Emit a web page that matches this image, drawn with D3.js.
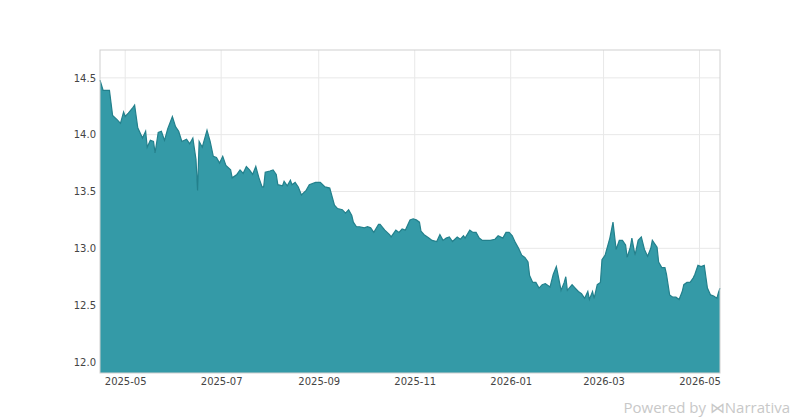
<!DOCTYPE html>
<html><head><meta charset="utf-8">
<script src="https://cdn.jsdelivr.net/npm/d3@7"></script>
<style>body{margin:0;background:#fff;font-family:"DejaVu Sans",sans-serif}</style>
</head><body><svg id="c" width="800" height="420"></svg>
<script>
const dates=["2025-04-15","2025-04-17","2025-04-21","2025-04-23","2025-04-26","2025-04-28","2025-04-30","2025-05-01","2025-05-03","2025-05-06","2025-05-07","2025-05-09","2025-05-12","2025-05-14","2025-05-15","2025-05-17","2025-05-19","2025-05-20","2025-05-22","2025-05-24","2025-05-26","2025-05-28","2025-05-31","2025-06-02","2025-06-04","2025-06-06","2025-06-09","2025-06-11","2025-06-13","2025-06-15","2025-06-16","2025-06-17","2025-06-19","2025-06-22","2025-06-24","2025-06-26","2025-06-28","2025-06-30","2025-07-02","2025-07-04","2025-07-07","2025-07-08","2025-07-11","2025-07-13","2025-07-15","2025-07-17","2025-07-19","2025-07-21","2025-07-23","2025-07-25","2025-07-27","2025-07-28","2025-07-29","2025-08-01","2025-08-03","2025-08-05","2025-08-06","2025-08-09","2025-08-10","2025-08-12","2025-08-14","2025-08-15","2025-08-17","2025-08-19","2025-08-21","2025-08-24","2025-08-26","2025-08-30","2025-09-02","2025-09-05","2025-09-08","2025-09-11","2025-09-13","2025-09-16","2025-09-18","2025-09-20","2025-09-22","2025-09-23","2025-09-25","2025-09-27","2025-09-30","2025-10-02","2025-10-04","2025-10-06","2025-10-09","2025-10-10","2025-10-13","2025-10-16","2025-10-17","2025-10-20","2025-10-22","2025-10-24","2025-10-26","2025-10-29","2025-10-31","2025-11-02","2025-11-04","2025-11-05","2025-11-07","2025-11-10","2025-11-12","2025-11-15","2025-11-17","2025-11-19","2025-11-21","2025-11-23","2025-11-25","2025-11-28","2025-11-30","2025-12-02","2025-12-03","2025-12-06","2025-12-08","2025-12-10","2025-12-12","2025-12-14","2025-12-17","2025-12-19","2025-12-22","2025-12-24","2025-12-27","2025-12-29","2025-12-31","2026-01-02","2026-01-04","2026-01-06","2026-01-08","2026-01-10","2026-01-12","2026-01-13","2026-01-15","2026-01-17","2026-01-19","2026-01-21","2026-01-23","2026-01-24","2026-01-26","2026-01-28","2026-01-30","2026-01-31","2026-02-02","2026-02-04","2026-02-05","2026-02-06","2026-02-09","2026-02-11","2026-02-13","2026-02-15","2026-02-17","2026-02-19","2026-02-20","2026-02-22","2026-02-23","2026-02-25","2026-02-27","2026-02-28","2026-03-02","2026-03-05","2026-03-07","2026-03-09","2026-03-11","2026-03-13","2026-03-15","2026-03-16","2026-03-18","2026-03-19","2026-03-21","2026-03-23","2026-03-25","2026-03-27","2026-03-29","2026-03-31","2026-04-01","2026-04-02","2026-04-04","2026-04-05","2026-04-07","2026-04-09","2026-04-10","2026-04-12","2026-04-14","2026-04-16","2026-04-18","2026-04-20","2026-04-21","2026-04-23","2026-04-25","2026-04-27","2026-04-28","2026-04-30","2026-05-02","2026-05-04","2026-05-06","2026-05-08","2026-05-10","2026-05-12","2026-05-13","2026-05-14"];
const values=[14.48,14.39,14.39,14.17,14.13,14.10,14.20,14.16,14.19,14.24,14.26,14.06,13.97,14.03,13.89,13.95,13.94,13.84,14.02,14.03,13.95,14.05,14.16,14.07,14.03,13.94,13.96,13.92,13.97,13.78,13.51,13.94,13.89,14.04,13.94,13.81,13.80,13.75,13.81,13.73,13.69,13.62,13.65,13.69,13.66,13.72,13.69,13.65,13.72,13.62,13.54,13.54,13.67,13.68,13.69,13.65,13.56,13.55,13.59,13.55,13.60,13.56,13.58,13.54,13.47,13.51,13.56,13.58,13.58,13.54,13.53,13.38,13.35,13.34,13.31,13.34,13.29,13.23,13.19,13.19,13.18,13.19,13.18,13.14,13.21,13.21,13.16,13.12,13.10,13.16,13.14,13.17,13.16,13.25,13.26,13.25,13.23,13.15,13.12,13.09,13.07,13.06,13.12,13.07,13.09,13.10,13.06,13.10,13.08,13.11,13.09,13.16,13.14,13.14,13.09,13.07,13.07,13.07,13.08,13.11,13.09,13.14,13.14,13.11,13.05,13.00,12.94,12.92,12.88,12.76,12.70,12.70,12.65,12.68,12.69,12.68,12.66,12.77,12.84,12.77,12.63,12.70,12.75,12.63,12.68,12.65,12.62,12.60,12.56,12.62,12.55,12.62,12.56,12.68,12.70,12.90,12.94,13.09,13.23,12.99,13.07,13.07,13.03,12.92,13.01,13.09,12.94,13.07,13.10,12.99,12.93,13.00,13.07,13.05,13.01,12.88,12.83,12.83,12.77,12.59,12.57,12.57,12.55,12.62,12.68,12.70,12.70,12.74,12.77,12.85,12.84,12.85,12.65,12.59,12.58,12.56,12.61,12.65];
const yTicks=[12.0,12.5,13.0,13.5,14.0,14.5];
const xTickDates=["2025-05-01","2025-07-01","2025-09-01","2025-11-01","2026-01-01","2026-03-01","2026-05-01"];

const parse=d3.utcParse("%Y-%m-%d");
const data=dates.map((d,i)=>({d:parse(d),v:values[i]}));
const L=100,R=720,T=50,B=373;
const svg=d3.select("#c");
const x=d3.scaleUtc().domain([parse("2025-04-15"),parse("2026-05-14")]).range([L,R]);
const y=d3.scaleLinear().domain([11.903,14.745]).range([B,T]);
const g=svg.append("g");
g.selectAll(".gx").data(xTickDates.map(parse)).join("line").attr("x1",d=>x(d)).attr("x2",d=>x(d)).attr("y1",T).attr("y2",B).attr("stroke","#e8e8e8");
g.selectAll(".gy").data(yTicks).join("line").attr("x1",L).attr("x2",R).attr("y1",d=>y(d)).attr("y2",d=>y(d)).attr("stroke","#e8e8e8");
const area=d3.area().x(d=>x(d.d)).y0(B).y1(d=>y(d.v));
svg.append("path").datum(data).attr("d",area).attr("fill","#349aa7");
svg.append("path").datum(data).attr("d",d3.line().x(d=>x(d.d)).y(d=>y(d.v))).attr("fill","none").attr("stroke","#23808c").attr("stroke-width",1.2);
svg.append("rect").attr("x",L).attr("y",T).attr("width",R-L).attr("height",B-T).attr("fill","none").attr("stroke","#d0d0d0");
const ya=svg.append("g").attr("transform",`translate(${L},0)`).call(d3.axisLeft(y).tickValues(yTicks).tickFormat(d3.format(".1f")).tickSize(0).tickPadding(4));
ya.select(".domain").remove();
ya.selectAll("text").attr("font-size",10).attr("fill","#444").attr("font-family","DejaVu Sans");
const xa=svg.append("g").attr("transform",`translate(0,${B})`).call(d3.axisBottom(x).tickValues(xTickDates.map(parse)).tickFormat(d3.utcFormat("%Y-%m")).tickSize(0).tickPadding(5));
xa.select(".domain").remove();
xa.selectAll("text").attr("font-size",10).attr("fill","#444").attr("font-family","DejaVu Sans");
svg.append("text").attr("x",790).attr("y",413).attr("text-anchor","end").attr("font-size",15).attr("fill","#c8c8c8").attr("font-family","Open Sans").text("Powered by  ⋈Narrativa");
</script></body></html>
